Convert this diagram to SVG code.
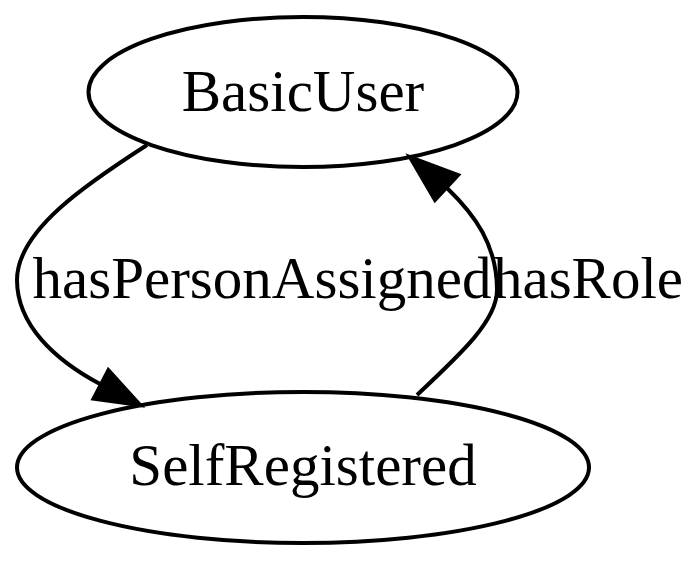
<svg xmlns="http://www.w3.org/2000/svg" width="700" height="561" viewBox="0 0 700 561">
<style>
.node ellipse{fill:none;stroke:#000;stroke-width:4}
.edge path{fill:none;stroke:#000;stroke-width:4}
.edge polygon{fill:#000;stroke:#000;stroke-width:4}
text{font-family:"Liberation Serif","Times New Roman",serif;font-size:59px;fill:#000;text-anchor:middle}
</style>
<rect width="700" height="561" fill="#fff"/>
<g id="BasicUser" class="node">
<ellipse cx="303" cy="92" rx="214.5" ry="75"/>
<text x="303" y="110.5">BasicUser</text>
</g>
<g id="SelfRegistered" class="node">
<ellipse cx="303" cy="467.5" rx="286" ry="75.5"/>
<text x="303" y="485">SelfRegistered</text>
</g>
<g id="edges">
<g id="edge1" class="edge">
<path d="M147,145 C88,183 17,230 17,280 C17,325 55,360 100,384"/>
<polygon points="140,405 93.6,398.7 108.4,370.3"/>
<text x="262" y="298">hasPersonAssigned</text>
</g>
<g id="edge2" class="edge">
<path d="M417,395 C463,352 497,320 497,290 C497,245 475,215 447,188"/>
<polygon points="410,157 458,175 435,200"/>
<text x="588" y="298">hasRole</text>
</g>
</g>
</svg>
